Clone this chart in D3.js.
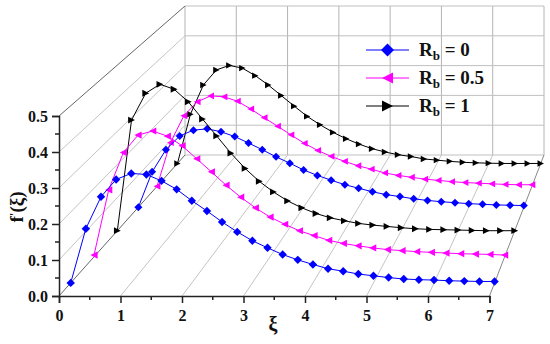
<!DOCTYPE html>
<html>
<head>
<meta charset="utf-8">
<script src="https://cdn.jsdelivr.net/npm/d3@7"></script>
<style>
  html, body { margin: 0; padding: 0; background: #fff; }
  svg { display: block; }
  text { font-family: "Liberation Serif", serif; font-weight: bold; fill: #111; }
  .tick text { font-size: 16px; }
</style>
</head>
<body>
<svg id="chart" width="550" height="344"></svg>
<script>
// xi runs 0, 0.25, ... 7 for all curves
var xi = [0, 0.25, 0.5, 0.75, 1, 1.25, 1.5, 1.75, 2, 2.25, 2.5, 2.75, 3, 3.25, 3.5, 3.75, 4,
          4.25, 4.5, 4.75, 5, 5.25, 5.5, 5.75, 6, 6.25, 6.5, 6.75, 7];

var blueFront = [0, .153, .243, .292, .309, .306, .288, .264, .232, .203, .172, .144, .119, .099, .08,
                 .065, .052, .04, .033, .025, .02, .015, .011, .009, .008, .006, .005, .004, .004];
var magentaFront = [.005, .195, .304, .355, .367, .352, .324, .286, .248, .209, .174, .143, .116, .095, .076,
                    .062, .048, .039, .032, .026, .021, .018, .015, .013, .011, .009, .008, .007, .005];
var blackFront = [0, .334, .415, .442, .427, .389, .337, .286, .234, .188, .149, .117, .09, .069, .052,
                  .039, .03, .022, .017, .013, .009, .006, .004, .003, .002, .001, 0, 0, 0];
var blueBack = [0, .11, .179, .222, .24, .244, .235, .22, .2, .179, .157, .137, .116, .099, .084,
                .07, .059, .048, .039, .033, .026, .021, .017, .014, .011, .009, .007, .006, .005];
var magentaBack = [0, .14, .226, .271, .29, .287, .273, .248, .22, .193, .165, .138, .115, .096, .08,
                   .066, .055, .043, .035, .029, .023, .019, .015, .012, .01, .008, .006, .005, .005];
var blackBack = [0, .163, .26, .31, .325, .316, .291, .26, .225, .19, .156, .128, .103, .082, .064,
                 .049, .038, .029, .023, .015, .011, .007, .004, .002, .001, 0, 0, 0, 0];

var xTicks = [0, 1, 2, 3, 4, 5, 6, 7];
var yTicks = [0, 0.1, 0.2, 0.3, 0.4, 0.5];
var legendLabels = ["0", "0.5", "1"];

var svg = d3.select("#chart");

// front and back planes of the 3D box, in between is a straight blend
var xFront = d3.scaleLinear().domain([0, 7]).range([59, 489.5]);
var xBack = d3.scaleLinear().domain([0, 7]).range([185, 544]);
var yFront = d3.scaleLinear().domain([0, 0.5]).range([296, 116]);
var yBack = d3.scaleLinear().domain([0, 0.5]).range([155, 6]);

function px(x, t) { return xFront(x) + (xBack(x) - xFront(x)) * t; }
function py(y, t) { return yFront(y) + (yBack(y) - yFront(y)) * t; }

var wall = svg.append("g").attr("fill", "none");

// back wall grid
xTicks.forEach(function(d) {
  wall.append("line").attr("x1", xBack(d)).attr("x2", xBack(d))
      .attr("y1", yBack(0)).attr("y2", yBack(0.5))
      .attr("stroke", "#b4b4b4").attr("stroke-width", 1);
});
yTicks.forEach(function(d) {
  wall.append("line").attr("x1", xBack(0)).attr("x2", xBack(7))
      .attr("y1", yBack(d)).attr("y2", yBack(d))
      .attr("stroke", "#c0c0c0").attr("stroke-width", 1);
});

// floor lines
xTicks.forEach(function(d) {
  wall.append("line").attr("x1", xFront(d)).attr("y1", yFront(0))
      .attr("x2", xBack(d)).attr("y2", yBack(0))
      .attr("stroke", d == 0 ? "#666" : (d == 7 ? "#888" : "#c4c4c4")).attr("stroke-width", 1);
});
// side wall lines
yTicks.slice(1).forEach(function(d) {
  wall.append("line").attr("x1", xFront(0)).attr("y1", yFront(d))
      .attr("x2", xBack(0)).attr("y2", yBack(d))
      .attr("stroke", d == 0.5 ? "#666" : "#c4c4c4").attr("stroke-width", 1);
});

// axes
var axisX = d3.axisBottom(xFront).tickValues(xTicks).tickFormat(d3.format("d")).tickSize(7).tickPadding(7);
var axisY = d3.axisLeft(yFront).tickValues(yTicks).tickFormat(d3.format(".1f")).tickSize(7).tickPadding(4);

var gx = svg.append("g").attr("transform", "translate(0," + yFront(0) + ")").call(axisX);
var gy = svg.append("g").attr("transform", "translate(" + xFront(0) + ",0)").call(axisY);
[gx, gy].forEach(function(g) {
  g.selectAll(".domain").attr("stroke", "#222").attr("stroke-width", 1.5);
  g.selectAll(".tick line").attr("stroke", "#222").attr("stroke-width", 1.5);
  g.selectAll("text").attr("font-size", null).attr("font-family", null).attr("fill", null);
});
// minor ticks
xTicks.slice(0, -1).forEach(function(d) {
  gx.append("line").attr("x1", xFront(d + 0.5)).attr("x2", xFront(d + 0.5)).attr("y1", 0).attr("y2", 4)
    .attr("stroke", "#222").attr("stroke-width", 1.5);
});
yTicks.slice(0, -1).forEach(function(d) {
  gy.append("line").attr("y1", yFront(d + 0.05)).attr("y2", yFront(d + 0.05)).attr("x1", 0).attr("x2", -4)
    .attr("stroke", "#222").attr("stroke-width", 1.5);
});

// markers, same three shapes on the curves and in the legend
function markerPath(shape, r) {
  if (shape == "diamond") return "M0," + (-r) + "L" + r + ",0L0," + r + "L" + (-r) + ",0Z";
  if (shape == "left") return "M" + (-r) + ",0L" + r + "," + (-r) + "L" + r + "," + r + "Z";
  return "M" + r + ",0L" + (-r) + "," + (-r) + "L" + (-r) + "," + r + "Z";
}

var blue = "#0000ff", magenta = "#ff00ff", black = "#000000";

var curves = [
  { values: blackBack, t: 0.94, color: black, shape: "right", r: 3.2 },
  { values: magentaBack, t: 0.778, color: magenta, shape: "left", r: 3.4 },
  { values: blueBack, t: 0.63, color: blue, shape: "diamond", r: 4 },
  { values: blackFront, t: 0.463, color: black, shape: "right", r: 3.4 },
  { values: magentaFront, t: 0.278, color: magenta, shape: "left", r: 3.6 },
  { values: blueFront, t: 0.093, color: blue, shape: "diamond", r: 4.2 }
];

curves.forEach(function(c) {
  var line = d3.line()
    .x(function(d, i) { return px(xi[i], c.t); })
    .y(function(d) { return py(d, c.t); });
  var g = svg.append("g");
  g.append("path").attr("d", line(c.values)).attr("fill", "none")
    .attr("stroke", c.color).attr("stroke-width", 1);
  g.selectAll("path.m").data(c.values).enter().append("path")
    .attr("class", "m")
    .attr("d", markerPath(c.shape, c.r))
    .attr("fill", c.color)
    .attr("transform", function(d, i) { return "translate(" + px(xi[i], c.t) + "," + py(d, c.t) + ")"; });
});

// axis titles
var yTitle = svg.append("text").attr("transform", "translate(23,207) rotate(-90)")
  .attr("text-anchor", "middle").attr("font-size", 19);
yTitle.append("tspan").text("f");
yTitle.append("tspan").attr("font-size", 13).attr("dy", -5).text("'");
yTitle.append("tspan").attr("dy", 5).text("(ξ)");

svg.append("text").attr("x", 273).attr("y", 331).attr("text-anchor", "middle")
  .attr("font-size", 20).text("ξ");

// legend
var legendColors = [blue, magenta, black];
var legendShapes = ["diamond", "left", "right"];
var legendY = d3.scalePoint().domain([0, 1, 2]).range([50, 106]);
legendLabels.forEach(function(d, i) {
  var y = legendY(i);
  svg.append("line").attr("x1", 366).attr("x2", 409).attr("y1", y).attr("y2", y)
    .attr("stroke", legendColors[i]).attr("stroke-width", 1.2);
  svg.append("path").attr("d", markerPath(legendShapes[i], i == 0 ? 6.5 : 5.5))
    .attr("fill", legendColors[i])
    .attr("transform", "translate(387.5," + y + ")");
  var t = svg.append("text").attr("x", 419).attr("y", y + 6).attr("font-size", 19);
  t.append("tspan").text("R");
  t.append("tspan").attr("font-size", 13).attr("dy", 4).text("b");
  t.append("tspan").attr("dy", -4).text(" = " + d);
});
</script>
</body>
</html>
